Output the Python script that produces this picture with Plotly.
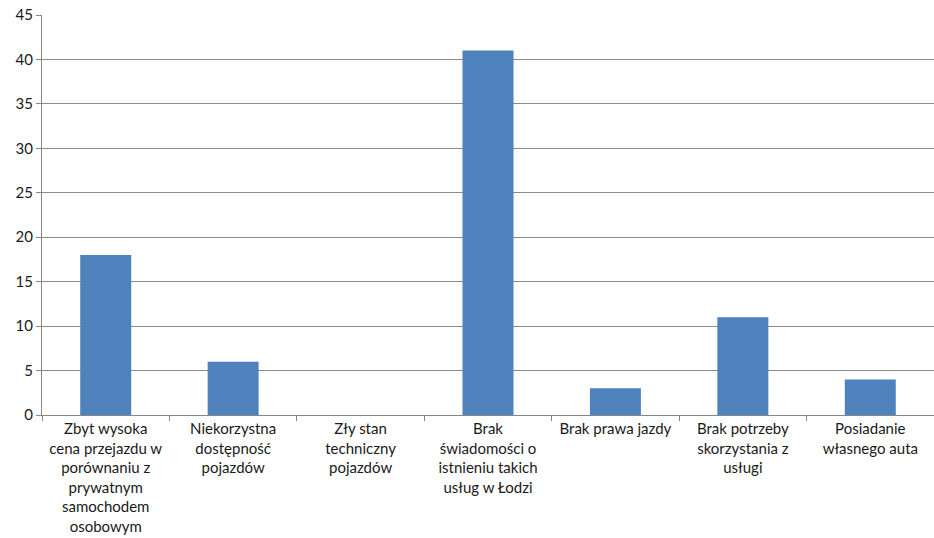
import plotly.graph_objects as go

categories = [
    "Zbyt wysoka<br>cena przejazdu w<br>porównaniu z<br>prywatnym<br>samochodem<br>osobowym",
    "Niekorzystna<br>dostępność<br>pojazdów",
    "Zły stan<br>techniczny<br>pojazdów",
    "Brak<br>świadomości o<br>istnieniu takich<br>usług w Łodzi",
    "Brak prawa jazdy",
    "Brak potrzeby<br>skorzystania z<br>usługi",
    "Posiadanie<br>własnego auta",
]
values = [18, 6, 0, 41, 3, 11, 4]
y_ticks = [0, 5, 10, 15, 20, 25, 30, 35, 40, 45]

fig = go.Figure(go.Bar(
    x=categories, y=values, width=0.4,
    marker=dict(color="#4F81BD", line=dict(width=0)),
))

fig.update_layout(
    width=934, height=538,
    margin=dict(l=42, r=0, t=15, b=123),
    paper_bgcolor="white", plot_bgcolor="white",
    font=dict(family="Lato, Open Sans, sans-serif", size=15, color="#1a1a1a"),
    showlegend=False,
    bargap=0.6,
)
fig.update_xaxes(
    tickson="boundaries", ticks="outside", ticklen=5, tickcolor="#868686",
    showline=True, linecolor="#868686", linewidth=1,
    tickangle=0, tickfont=dict(size=15), automargin=False,
)
fig.update_yaxes(
    range=[0, 45], tickvals=y_ticks, ticks="outside", ticklen=5, tickcolor="#868686",
    showline=True, linecolor="#868686", linewidth=1,
    showgrid=True, gridcolor="#8c8c8c", gridwidth=1, zeroline=False,
    tickfont=dict(size=15), automargin=False,
)

fig.write_html("out.html")
